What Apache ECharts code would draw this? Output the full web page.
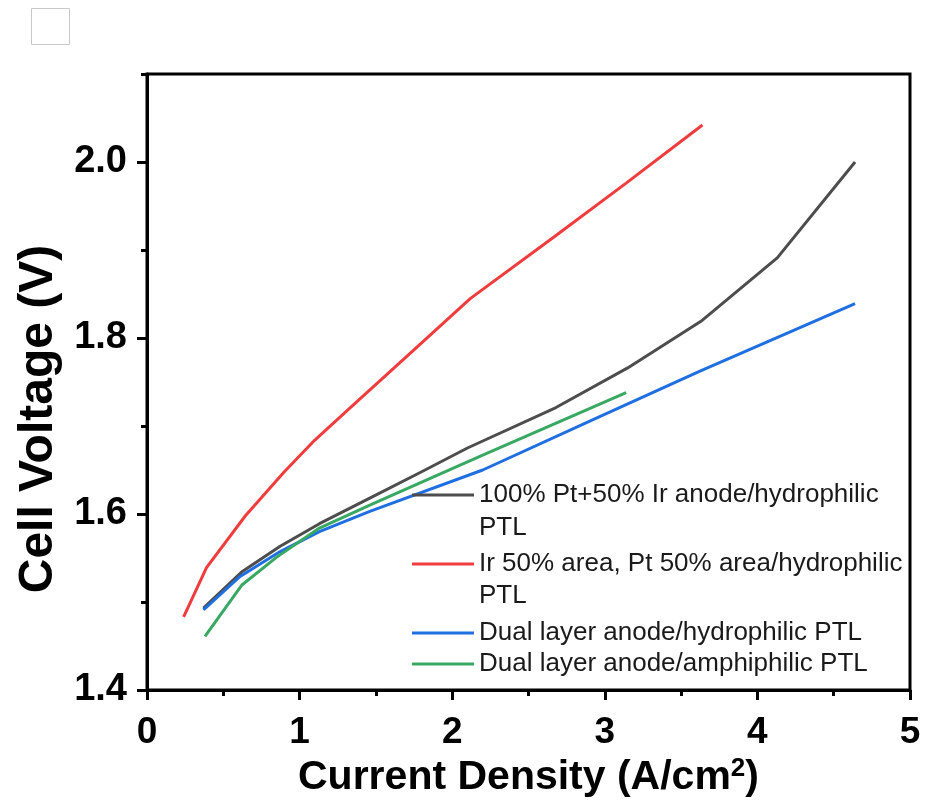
<!DOCTYPE html>
<html>
<head>
<meta charset="utf-8">
<script src="https://cdn.jsdelivr.net/npm/echarts@6/dist/echarts.min.js"></script>
<style>
html,body{margin:0;padding:0;background:#fff;}
#chart{width:925px;height:800px;}
</style>
</head>
<body>
<div id="chart"></div>
<script>
// ---- data ----
const seriesNames = [
  '100% Pt+50% Ir anode/hydrophilic PTL',
  'Ir 50% area, Pt 50% area/hydrophilic PTL',
  'Dual layer anode/hydrophilic PTL',
  'Dual layer anode/amphiphilic PTL'
];
const legendFirstLines = [
  '100% Pt+50% Ir anode/hydrophilic',
  'Ir 50% area, Pt 50% area/hydrophilic',
  'Dual layer anode/hydrophilic PTL',
  'Dual layer anode/amphiphilic PTL'
];
const ptIrCurrent = [0.37, 0.62, 0.87, 1.13, 1.46, 1.80, 2.10, 2.68, 3.15, 3.63, 4.13, 4.64];
const ptIrVoltage = [1.493, 1.534, 1.563, 1.589, 1.618, 1.648, 1.675, 1.721, 1.766, 1.819, 1.891, 2.000];

const irPtCurrent = [0.24, 0.39, 0.645, 0.90, 1.10, 1.32, 1.67, 2.12, 2.66, 3.14, 3.64];
const irPtVoltage = [1.483, 1.539, 1.598, 1.648, 1.684, 1.719, 1.774, 1.845, 1.914, 1.976, 2.042];

const dualHydCurrent = [0.37, 0.61, 0.87, 1.13, 1.46, 2.20, 2.97, 3.62, 4.64];
const dualHydVoltage = [1.491, 1.529, 1.557, 1.580, 1.603, 1.650, 1.711, 1.762, 1.839];

const dualAmpCurrent = [0.38, 0.62, 0.85, 1.13, 1.46, 2.20, 3.14];
const dualAmpVoltage = [1.461, 1.519, 1.551, 1.584, 1.610, 1.667, 1.738];

const xTicks = [0, 1, 2, 3, 4, 5];
const yTickLabels = [1.4, 1.6, 1.8, 2.0];

const colors = ['#4d4d4d', '#f03c3c', '#1f6fe0', '#38a862'];

// ---- build ----
function pairs(xs, ys) { return xs.map((x, i) => [x, ys[i]]); }
const seriesData = [
  pairs(ptIrCurrent, ptIrVoltage),
  pairs(irPtCurrent, irPtVoltage),
  pairs(dualHydCurrent, dualHydVoltage),
  pairs(dualAmpCurrent, dualAmpVoltage)
];

const FONT = '"Liberation Sans", Arial, sans-serif';
const legendCenters = [495, 564, 633, 664];
const LEG_FS = 26;

const chart = echarts.init(document.getElementById('chart'), null, {renderer: 'canvas'});

const legends = seriesNames.map((n, i) => ({
  show: true,
  data: [n],
  left: 412,
  top: legendCenters[i] - 14,
  padding: 0,
  orient: 'vertical',
  icon: 'rect',
  itemWidth: 62,
  itemHeight: 3,
  selectedMode: false,
  formatter: (name) => legendFirstLines[seriesNames.indexOf(name)],
  textStyle: {fontFamily: FONT, fontSize: LEG_FS, color: '#1a1a1a', lineHeight: 28}
}));

const option = {
  animation: false,
  backgroundColor: '#fff',
  color: colors,
  grid: {left: 147, right: 15, top: 74, bottom: 110, show: true, borderColor: '#000', borderWidth: 3,
         backgroundColor: 'transparent', containLabel: false, outerBoundsMode: 'none'},
  legend: legends,
  xAxis: [
    {
      type: 'value', min: xTicks[0], max: xTicks[xTicks.length - 1], interval: 1,
      axisLine: {show: true, lineStyle: {color: '#000', width: 3}},
      axisTick: {show: true, length: 10, lineStyle: {color: '#000', width: 3}},
      minorTick: {show: true, splitNumber: 2, length: 6, lineStyle: {color: '#000', width: 3}},
      splitLine: {show: false},
      axisLabel: {margin: 24, fontFamily: FONT, fontWeight: 'bold', fontSize: 37, color: '#000'},
      name: '{a|Current Density (A/cm}{s|2}{a|)}',
      nameLocation: 'middle', nameGap: 60,
      nameTextStyle: {
        rich: {
          a: {fontFamily: FONT, fontWeight: 'bold', fontSize: 41, color: '#000'},
          s: {fontFamily: FONT, fontWeight: 'bold', fontSize: 26, color: '#000', verticalAlign: 'top', padding: [0, 0, 18, 0]}
        }
      }
    }
  ],
  yAxis: [
    {
      type: 'value', min: 1.4, max: 2.1, interval: 0.2,
      axisLine: {show: true, lineStyle: {color: '#000', width: 3}},
      axisTick: {show: true, length: 10, lineStyle: {color: '#000', width: 3}},
      splitLine: {show: false},
      axisLabel: {
        margin: 20, fontFamily: FONT, fontWeight: 'bold', fontSize: 38, color: '#000',
        showMaxLabel: false,
        formatter: (v) => (yTickLabels.some(t => Math.abs(t - v) < 1e-6) ? v.toFixed(1) : '')
      },
      name: 'Cell Voltage (V)',
      nameLocation: 'middle', nameGap: 84,
      nameTextStyle: {fontFamily: FONT, fontWeight: 'bold', fontSize: 48, color: '#000', padding: [0, 74, 0, 0]}
    },
    {
      type: 'value', min: 1.4, max: 2.1, interval: 0.1, position: 'left',
      axisLine: {show: false},
      axisTick: {show: true, length: 6, lineStyle: {color: '#000', width: 3}},
      axisLabel: {show: false},
      splitLine: {show: false}
    }
  ],
  series: seriesNames.map((n, i) => ({
    name: n,
    type: 'line',
    xAxisIndex: 0,
    yAxisIndex: 0,
    data: seriesData[i],
    showSymbol: false,
    symbol: 'none',
    lineStyle: {width: 3, color: colors[i]},
    itemStyle: {color: colors[i]},
    z: 3
  })),
  graphic: [
    {type: 'rect', left: 31, top: 8, shape: {width: 38, height: 36}, style: {fill: '#fff', stroke: '#c8c8c8', lineWidth: 1}},
    {type: 'text', left: 479, top: legendCenters[0] + 33 - 14, style: {text: 'PTL', font: LEG_FS + 'px ' + FONT, fill: '#1a1a1a', lineHeight: 28}},
    {type: 'text', left: 479, top: legendCenters[1] + 32 - 14, style: {text: 'PTL', font: LEG_FS + 'px ' + FONT, fill: '#1a1a1a', lineHeight: 28}}
  ]
};
chart.setOption(option);
</script>
</body>
</html>
